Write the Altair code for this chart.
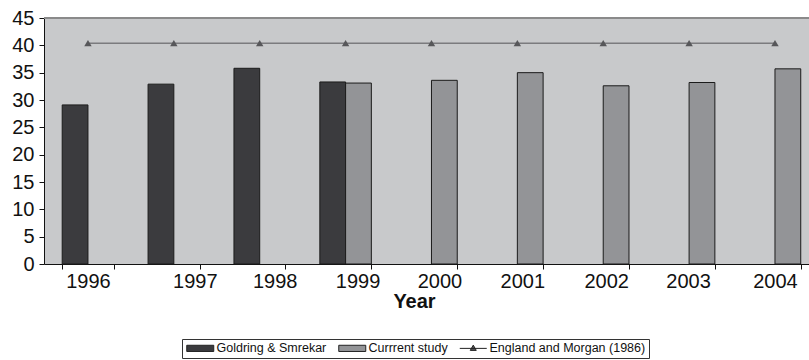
import altair as alt
import pandas as pd

# Mean values per year for each study
years = ["1996", "1997", "1998", "1999", "2000", "2001", "2002", "2003", "2004"]
goldring = [29.1, 32.9, 35.8, 33.3, None, None, None, None, None]
current = [None, None, None, 33.1, 33.6, 35.0, 32.6, 33.2, 35.7]
england = [40.4, 40.4, 40.4, 40.4, 40.4, 40.4, 40.4, 40.4, 40.4]
y_ticks = [0, 5, 10, 15, 20, 25, 30, 35, 40, 45]

series_names = ["Goldring & Smrekar", "Currrent study", "England and Morgan (1986)"]
series_colors = ["#3b3b3e", "#939497", "#57575a"]

# year label nudges along the x axis
label_nudge = {"1997": 21, "1998": 15, "1999": 12, "2000": 8, "2001": 5, "2002": 3, "2003": -1}

rows = []
for name, vals in zip(series_names[:2], [goldring, current]):
    for yr, v in zip(years, vals):
        if v is not None:
            rows.append({"year": yr, "series": name, "value": v})
bars_df = pd.DataFrame(rows)
eng_df = pd.DataFrame({"year": years, "series": series_names[2], "value": england})

FONT = "Liberation Sans"
# wide legend keys: a flat box for the bars, a line with a triangle for the reference value
RECT = "M-2.7,-0.62H2.7V0.62H-2.7Z"
LINE_TRI = "M-2.7,0H2.7M-0.6,0.4L0,-0.65L0.6,0.4Z"

color_scale = alt.Scale(domain=series_names, range=series_colors)
shape_scale = alt.Scale(domain=series_names, range=[RECT, RECT, LINE_TRI])

legend = alt.Legend(
    orient="none", legendX=138, legendY=321, direction="horizontal", title=None,
    symbolSize=100, symbolOffset=9, symbolStrokeColor="#222222", symbolStrokeWidth=1,
    labelFont=FONT, labelFontSize=12.5, labelColor="#111111", labelOffset=10,
    labelLimit=0, columnPadding=9, padding=3,
    strokeColor="#333333", fillColor="white",
)

x_scale = alt.Scale(domain=years, paddingInner=0.4, paddingOuter=0.154, align=0.688)
x_axis = alt.Axis(
    title="Year", labelAngle=0, tickBand="extent", tickSize=5, labelPadding=2,
    labelFont=FONT, labelFontSize=20, labelColor="#111111",
    tickColor="#111111", domainColor="#111111",
    titleFont=FONT, titleFontSize=20, titleFontWeight="bold", titleColor="#111111",
    titleX=370, titleY=43, titleBaseline="alphabetic", titleAlign="center",
    labelOffset={
        "condition": [{"test": f"datum.value === '{k}'", "value": v} for k, v in label_nudge.items()],
        "value": 0,
    },
)
y_scale = alt.Scale(domain=[0, 45])
y_axis = alt.Axis(
    title=None, values=y_ticks, grid=False, tickSize=5, labelPadding=5,
    labelOverlap=False, labelFont=FONT, labelFontSize=20, labelColor="#111111",
    tickColor="#111111", domainColor="#111111",
)

X = alt.X("year:N", sort=years, scale=x_scale, axis=x_axis)
Y = alt.Y("value:Q", scale=y_scale, axis=y_axis)

top_edge = alt.Chart(alt.Data(values=[{}])).mark_rule(color="#8a8a8a", strokeWidth=2).encode(
    y=alt.datum(45, scale=y_scale, axis=y_axis)
)

bars = alt.Chart(bars_df).mark_bar(stroke="#1b1b1b", strokeWidth=1).encode(
    x=X,
    xOffset=alt.XOffset("series:N", sort=series_names[:2],
                        scale=alt.Scale(domain=series_names[:2], paddingInner=0, paddingOuter=0)),
    y=Y,
    color=alt.Color("series:N", scale=color_scale, legend=legend),
)

line = alt.Chart(eng_df).mark_line(color="#7b7b7e", strokeWidth=1.5).encode(x=X, y=Y)

points = alt.Chart(eng_df).mark_point(shape="triangle-up", filled=True, color="#57575a",
                                       size=55, opacity=1).encode(x=X, y=Y)

# carries the symbol shapes for the shared legend
legend_keys = alt.Chart(eng_df).transform_filter("false").mark_point(filled=True, opacity=1).encode(
    x=X,
    y=Y,
    color=alt.Color("series:N", scale=color_scale, legend=legend),
    shape=alt.Shape("series:N", scale=shape_scale, legend=legend),
)

chart = alt.layer(top_edge, bars, line, points, legend_keys).properties(
    width=765, height=246,
    autosize=alt.AutoSizeParams(type="none"),
    padding={"left": 44, "top": 18, "right": 0, "bottom": 96},
    background="white",
).configure_view(fill="#c8c9cb", stroke=None)

chart.save("out.html", embed_options={"renderer": "svg", "actions": False})
